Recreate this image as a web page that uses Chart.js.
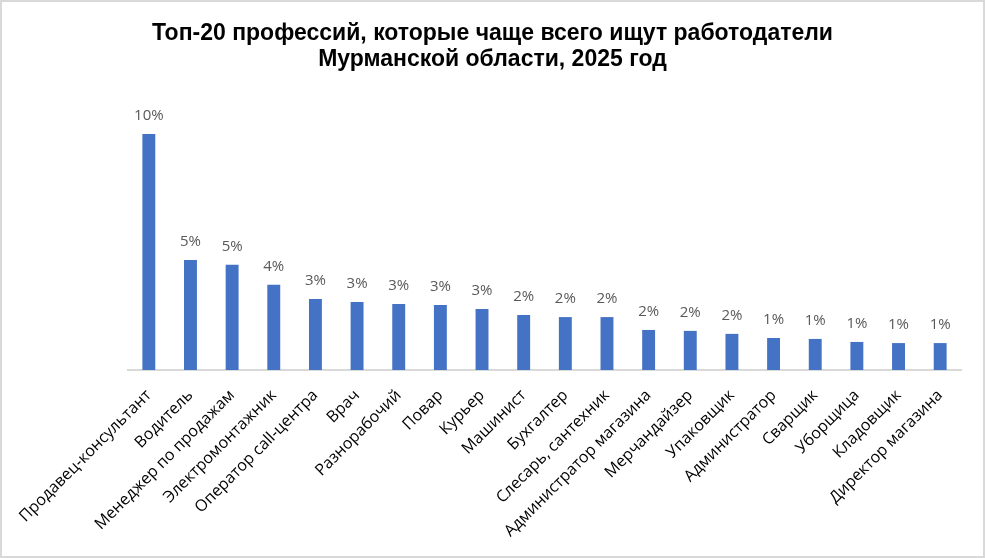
<!DOCTYPE html>
<html><head><meta charset="utf-8">
<script src="https://cdn.jsdelivr.net/npm/chart.js@4/dist/chart.umd.min.js"></script>
<style>html,body{margin:0;padding:0;background:#fff;}#wrap{width:985px;height:558px;}</style>
</head><body><div id="wrap"><canvas id="c" width="985" height="558"></canvas></div>
<script>
const categories = ["Продавец-консультант","Водитель","Менеджер по продажам","Электромонтажник","Оператор call-центра","Врач","Разнорабочий","Повар","Курьер","Машинист","Бухгалтер","Слесарь, сантехник","Администратор магазина","Мерчандайзер","Упаковщик","Администратор","Сварщик","Уборщица","Кладовщик","Директор магазина"];
const shares = [10.26,4.78,4.57,3.70,3.09,2.96,2.87,2.83,2.65,2.39,2.30,2.30,1.74,1.70,1.57,1.39,1.35,1.22,1.17,1.17];
const titleLines = ["Топ-20 профессий, которые чаще всего ищут работодатели","Мурманской области, 2025 год"];

const frame = {
  id:'frame',
  beforeDraw(chart){
    const ctx = chart.ctx;
    ctx.save();
    ctx.fillStyle = '#fff';
    ctx.fillRect(0,0,chart.width,chart.height);
    ctx.strokeStyle = '#d9d9d9';
    ctx.lineWidth = 2;
    ctx.strokeRect(1,1,chart.width-2,chart.height-2);
    ctx.restore();
  }
};
const valueLabels = {
  id:'valueLabels',
  afterDatasetsDraw(chart){
    const ctx = chart.ctx;
    const meta = chart.getDatasetMeta(0);
    ctx.save();
    ctx.font = '15px "Open Sans", sans-serif';
    ctx.fillStyle = '#595959';
    ctx.textAlign = 'center';
    ctx.textBaseline = 'alphabetic';
    meta.data.forEach((bar,i)=>{
      ctx.fillText(Math.round(shares[i]) + '%', bar.x, bar.y - 14);
    });
    ctx.restore();
  }
};
const hiddenAxis = (w) => ({
  display:true, grid:{display:false, drawTicks:false}, border:{display:false},
  ticks:{display:false}, afterFit(s){ s.width = w; }
});

new Chart(document.getElementById('c'), {
  type:'bar',
  data:{ labels:categories, datasets:[{ data:shares, yAxisID:'y', backgroundColor:'#4472C4', barPercentage:0.31, categoryPercentage:1 }]},
  options:{
    responsive:false, animation:false, devicePixelRatio:1,
    layout:{ padding:0 },
    plugins:{
      legend:{display:false}, tooltip:{enabled:false},
      title:{ display:true, text:titleLines, color:'#000',
        font:{ family:'"Liberation Sans", Arial, sans-serif', size:23, weight:'bold', lineHeight:1.13 },
        padding:{ top:21, bottom:37 } }
    },
    scales:{
      x:{
        grid:{ display:false, drawTicks:false },
        border:{ display:true, color:'#d9d9d9', width:2 },
        ticks:{ minRotation:45, maxRotation:45, autoSkip:false, padding:16, color:'#000',
          font:{ family:'"Open Sans", sans-serif', size:16 } },
        afterFit(s){ s.height = 188; }
      },
      y:Object.assign(hiddenAxis(128), { position:'left', min:0, max:11.3 }),
      y2:Object.assign(hiddenAxis(24), { position:'right', min:0, max:1 })
    }
  },
  plugins:[frame, valueLabels]
});
</script></body></html>
